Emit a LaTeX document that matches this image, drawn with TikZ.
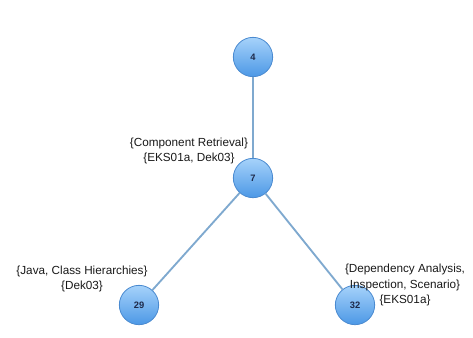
\documentclass[tikz,border=0pt]{standalone}
\usepackage{fontspec}
\setmainfont{Liberation Sans}
\begin{document}
\begin{tikzpicture}[x=0.75pt,y=-0.75pt,
  vtx/.style={circle,minimum size=29.5pt,inner sep=0pt,draw=vborder,line width=0.6pt,
    top color=vtop,bottom color=vbot,font=\fontsize{7}{8}\selectfont\bfseries,text=vtext},
  edge/.style={draw=ecol,line width=1.4pt},
  lbl/.style={align=center,font=\fontsize{8.8}{11.3}\selectfont,text=black!90,inner sep=0pt}]
\definecolor{vtop}{HTML}{A6D2FA}
\definecolor{vbot}{HTML}{4C98E6}
\definecolor{vborder}{HTML}{4A8AD0}
\definecolor{vtext}{HTML}{1E2A4A}
\definecolor{ecol}{HTML}{7FA9CF}
\useasboundingbox (0,0) rectangle (473,337);
\node[vtx] (n4) at (253,57) {4};
\node[vtx] (n7) at (253,178) {7};
\node[vtx] (n29) at (139,305) {29};
\node[vtx] (n32) at (355,305) {32};
\draw[edge] (n4) -- (n7);
\draw[edge] (n7) -- (n29);
\draw[edge] (n7) -- (n32);
\node[lbl] (l7) at (189,151) {\{Component Retrieval\}\\\{EKS01a, Dek03\}};
\node[lbl] (l29) at (82,279) {\{Java, Class Hierarchies\}\\\{Dek03\}};
\node[lbl] (l32) at (405,285) {\{Dependency Analysis,\\Inspection, Scenario\}\\\{EKS01a\}};
\end{tikzpicture}
\end{document}
